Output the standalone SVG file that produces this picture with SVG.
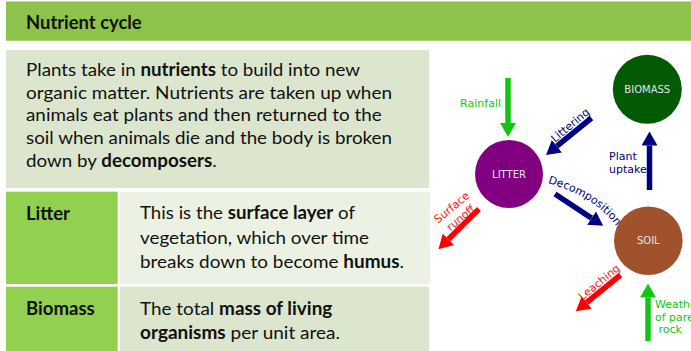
<svg xmlns="http://www.w3.org/2000/svg" width="691" height="351" viewBox="0 0 691 351">
  <style>
    .body { font-family: Lato, "Liberation Sans", sans-serif; font-size: 18px; fill: #111111; }
    .b { font-weight: bold; }
    .lbl { font-family: "DejaVu Sans", sans-serif; font-size: 11px; }
    .node { font-family: "DejaVu Sans", sans-serif; font-size: 10px; fill: #e4e4e4; text-anchor: middle; }
    .green { fill: #11c611; }
    .navy { fill: #000080; }
    .red { fill: #ff1010; }
    .sg { stroke: #11c611; stroke-width: 5.5; fill: none; marker-end: url(#hg); }
    .sn { stroke: #000080; stroke-width: 5.5; fill: none; marker-end: url(#hn); }
    .sr { stroke: #ff0000; stroke-width: 5.5; fill: none; marker-end: url(#hr); }
  </style>
  <defs>
    <marker id="hg" markerUnits="userSpaceOnUse" markerWidth="14" markerHeight="16" viewBox="0 0 14 16" refX="0" refY="8" orient="auto"><path d="M0,0 L14,8 L0,16 z" fill="#11c611"/></marker>
    <marker id="hn" markerUnits="userSpaceOnUse" markerWidth="14" markerHeight="16" viewBox="0 0 14 16" refX="0" refY="8" orient="auto"><path d="M0,0 L14,8 L0,16 z" fill="#000080"/></marker>
    <marker id="hr" markerUnits="userSpaceOnUse" markerWidth="14" markerHeight="16" viewBox="0 0 14 16" refX="0" refY="8" orient="auto"><path d="M0,0 L14,8 L0,16 z" fill="#ff0000"/></marker>
    <path id="decoPath" d="M548,183 C570,190 600,200 622,234"/>
  </defs>
  <rect width="691" height="351" fill="#ffffff"/>

  <g id="header">
    <rect x="6" y="1.5" width="685" height="39.2" fill="#8dc24b"/>
    <text class="body b" x="26" y="29.3" textLength="115.7" lengthAdjust="spacingAndGlyphs">Nutrient cycle</text>
  </g>

  <g id="intro">
    <rect x="6" y="50" width="423" height="138" fill="#dce6ce"/>
    <text class="body" x="26" y="75.7" textLength="334" lengthAdjust="spacingAndGlyphs">Plants take in <tspan class="b">nutrients</tspan> to build into new</text>
    <text class="body" x="26" y="98.5" textLength="366" lengthAdjust="spacingAndGlyphs">organic matter. Nutrients are taken up when</text>
    <text class="body" x="26" y="121.2" textLength="355.7" lengthAdjust="spacingAndGlyphs">animals eat plants and then returned to the</text>
    <text class="body" x="26" y="144" textLength="366" lengthAdjust="spacingAndGlyphs">soil when animals die and the body is broken</text>
    <text class="body" x="26" y="166.7" textLength="190.7" lengthAdjust="spacingAndGlyphs">down by <tspan class="b">decomposers</tspan>.</text>
  </g>

  <g id="row-litter">
    <rect x="6" y="191.7" width="111.7" height="92.3" fill="#92d050"/>
    <rect x="120" y="191.7" width="310" height="92.3" fill="#ebf1e3"/>
    <text class="body b" x="26" y="220" textLength="44" lengthAdjust="spacingAndGlyphs">Litter</text>
    <text class="body" x="140" y="219" textLength="215" lengthAdjust="spacingAndGlyphs">This is the <tspan class="b">surface layer</tspan> of</text>
    <text class="body" x="140" y="243.5" textLength="229" lengthAdjust="spacingAndGlyphs">vegetation, which over time</text>
    <text class="body" x="140" y="268" textLength="264" lengthAdjust="spacingAndGlyphs">breaks down to become <tspan class="b">humus</tspan>.</text>
  </g>

  <g id="row-biomass">
    <rect x="6" y="286.7" width="111.7" height="64.3" fill="#92d050"/>
    <rect x="120" y="286.7" width="309" height="64.3" fill="#dce6ce"/>
    <text class="body b" x="26" y="315" textLength="68.7" lengthAdjust="spacingAndGlyphs">Biomass</text>
    <text class="body" x="140" y="315" textLength="192.3" lengthAdjust="spacingAndGlyphs">The total <tspan class="b">mass of living</tspan></text>
    <text class="body" x="140" y="339.3" textLength="200" lengthAdjust="spacingAndGlyphs"><tspan class="b">organisms</tspan> per unit area.</text>
  </g>

  <g id="connectors">
    <line class="sg" x1="508" y1="78" x2="508" y2="123"/>
    <line class="sn" x1="591.5" y1="118" x2="556.9" y2="146.2"/>
    <line class="sn" x1="649.5" y1="190" x2="649.5" y2="145.5"/>
    <line class="sn" x1="555" y1="194" x2="591.5" y2="218.1"/>
    <line class="sr" x1="479" y1="209" x2="448.4" y2="239.3"/>
    <line class="sr" x1="620.5" y1="275" x2="586.7" y2="302.5"/>
    <line class="sg" x1="648" y1="341" x2="648" y2="297.5"/>

    <text class="lbl green" x="501" y="106.7" text-anchor="end">Rainfall</text>
    <text class="lbl navy" transform="translate(570,125) rotate(-40)" x="0" y="4" text-anchor="middle">Littering</text>
    <text class="lbl navy" x="609" y="160">Plant</text>
    <text class="lbl navy" x="609" y="172.5">uptake</text>
    <text class="lbl navy"><textPath href="#decoPath">Decomposition</textPath></text>
    <g transform="translate(456,212.5) rotate(-40)">
      <text class="lbl red" x="0" y="-2.9" text-anchor="middle">Surface</text>
      <text class="lbl red" x="0" y="10.9" text-anchor="middle">runoff</text>
    </g>
    <text class="lbl red" transform="translate(599,282) rotate(-39)" x="0" y="4" text-anchor="middle">Leaching</text>
    <text class="lbl green" x="655" y="308">Weathering</text>
    <text class="lbl green" x="655" y="320.5">of parent</text>
    <text class="lbl green" x="658.5" y="333">rock</text>
  </g>

  <g id="biomass">
    <circle cx="647.3" cy="89.3" r="34.5" fill="#045a04"/>
    <text class="node" x="647.3" y="93">BIOMASS</text>
  </g>
  <g id="litter">
    <circle cx="509" cy="174" r="34" fill="#800080"/>
    <text class="node" x="509" y="178">LITTER</text>
  </g>
  <g id="soil">
    <circle cx="648.3" cy="240.7" r="34.3" fill="#a0522d"/>
    <text class="node" x="648.3" y="244.3">SOIL</text>
  </g>
</svg>
